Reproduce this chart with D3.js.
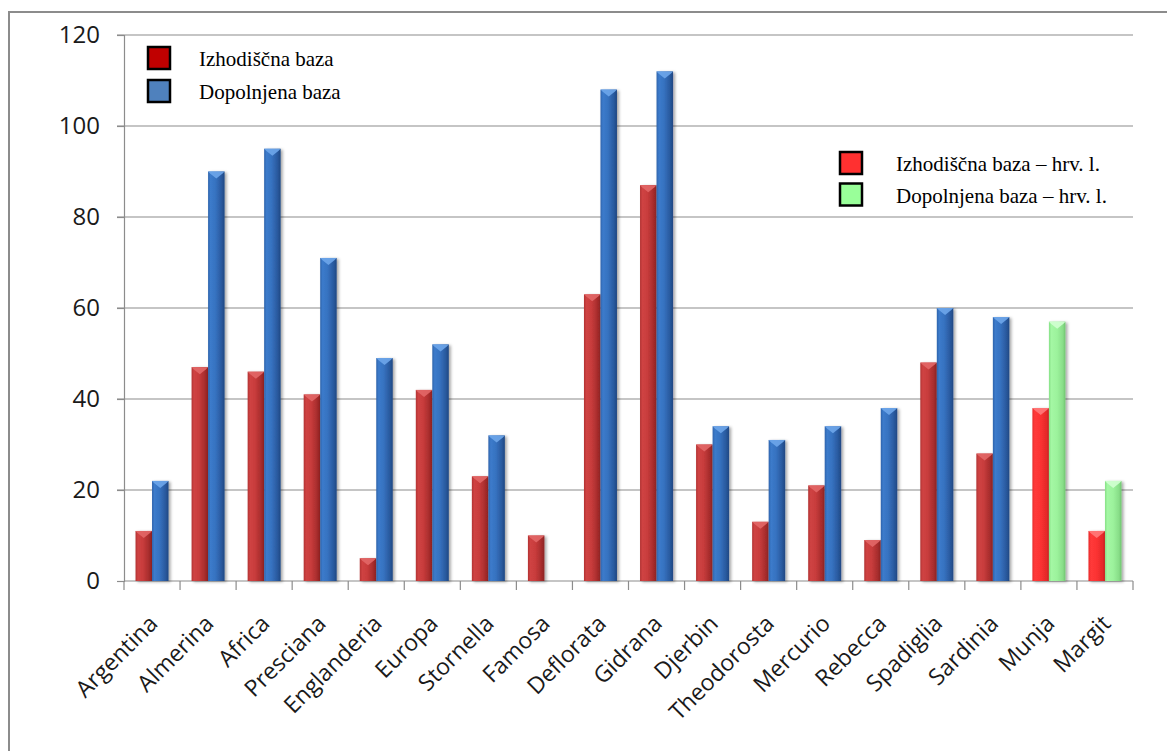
<!DOCTYPE html>
<html>
<head>
<meta charset="utf-8">
<script src="https://cdn.jsdelivr.net/npm/d3@7"></script>
<style>
html,body{margin:0;padding:0;background:#fff;}
svg{display:block;}
</style>
</head>
<body>
<svg id="chart" width="1167" height="751"></svg>
<script>
// ---- data ----
const categories = ["Argentina","Almerina","Africa","Presciana","Englanderia","Europa","Stornella","Famosa","Deflorata","Gidrana","Djerbin","Theodorosta","Mercurio","Rebecca","Spadiglia","Sardinia","Munja","Margit"];
const baseValues        = [11,47,46,41,5,42,23,10,63,87,30,13,21,9,48,28,null,null];
const supplementedValues= [22,90,95,71,49,52,32,0,108,112,34,31,34,38,60,58,null,null];
const baseHrvValues     = [null,null,null,null,null,null,null,null,null,null,null,null,null,null,null,null,38,11];
const supplementedHrvValues = [null,null,null,null,null,null,null,null,null,null,null,null,null,null,null,null,57,22];
const yTicks = [0,20,40,60,80,100,120];
const legendMain = ["Izhodiščna baza","Dopolnjena baza"];
const legendHrv = ["Izhodiščna baza – hrv. l.","Dopolnjena baza – hrv. l."];

// ---- setup ----
const svg = d3.select("#chart");
const plotL = 124, plotR = 1133, plotT = 35, plotB = 581;
const x = d3.scaleBand().domain(categories).range([plotL, plotR]).padding(0);
const y = d3.scaleLinear().domain([0,120]).range([plotB, plotT]);
const barW = 16.5;

// outer frame (top and left edges visible)
svg.append("path").attr("d", `M9,760 V12 H1180`).attr("fill","none").attr("stroke","#8c8c8c").attr("stroke-width",2);

const defs = svg.append("defs");
const shadow = defs.append("filter").attr("id","sh").attr("x","-30%").attr("y","-10%").attr("width","180%").attr("height","130%");
shadow.append("feDropShadow").attr("dx",2).attr("dy",1).attr("stdDeviation",1.6).attr("flood-color","#000").attr("flood-opacity",0.35);

function grad(id, stops){
  const g = defs.append("linearGradient").attr("id",id).attr("x1","0").attr("x2","1").attr("y1","0").attr("y2","0");
  stops.forEach(([o,c])=>g.append("stop").attr("offset",o).attr("stop-color",c));
}
grad("gRed",[[0,"#b23232"],[0.15,"#cf4343"],[0.45,"#c83c3c"],[0.8,"#a82d2d"],[1,"#8c2222"]]);
grad("gBlue",[[0,"#2f64ac"],[0.15,"#3c7bcb"],[0.45,"#3672c0"],[0.8,"#2a5a9f"],[1,"#1f4883"]]);
grad("gBrRed",[[0,"#e82828"],[0.15,"#ff3a3a"],[0.5,"#fb3232"],[0.85,"#e52a2a"],[1,"#c82020"]]);
grad("gGreen",[[0,"#86e086"],[0.15,"#a4f7a4"],[0.5,"#9cf29c"],[0.85,"#88dd88"],[1,"#6fc46f"]]);

const series = [
  {vals: baseValues, off: -1, fill:"url(#gRed)", cap:"#e26767"},
  {vals: supplementedValues, off: 0, fill:"url(#gBlue)", cap:"#6ea6ea"},
  {vals: baseHrvValues, off: -1, fill:"url(#gBrRed)", cap:"#ff7a7a"},
  {vals: supplementedHrvValues, off: 0, fill:"url(#gGreen)", cap:"#d2ffd2"}
];

// gridlines
svg.append("g").selectAll("line").data(yTicks.filter(t=>t>0)).join("line")
  .attr("x1", plotL-7).attr("x2", plotR).attr("y1", d=>y(d)).attr("y2", d=>y(d))
  .attr("stroke","#8c8c8c").attr("stroke-width",1.2);

// y axis
const yAxis = svg.append("g").attr("transform",`translate(${plotL},0)`)
  .call(d3.axisLeft(y).tickValues(yTicks).tickSize(7).tickPadding(17));
yAxis.select(".domain").attr("stroke","#8c8c8c").attr("stroke-width",1.2);
yAxis.selectAll(".tick line").attr("stroke","#8c8c8c").attr("stroke-width",1.2);
yAxis.selectAll("text").attr("font-family","'Open Sans', sans-serif").attr("font-size",24).attr("fill","#1a1a1a");

// x axis
svg.append("line").attr("x1",plotL).attr("x2",plotR).attr("y1",plotB).attr("y2",plotB).attr("stroke","#8c8c8c").attr("stroke-width",1.2);
const bounds = categories.map(c=>x(c)).concat([plotR]);
svg.append("g").selectAll("line").data(bounds).join("line")
  .attr("x1",d=>d).attr("x2",d=>d).attr("y1",plotB).attr("y2",plotB+9)
  .attr("stroke","#8c8c8c").attr("stroke-width",1.2);

svg.append("g").selectAll("text").data(categories).join("text")
  .attr("transform", d=>`translate(${x(d)+x.bandwidth()/2+7},${plotB+44}) rotate(-45)`)
  .attr("text-anchor","end")
  .attr("font-family","'Open Sans', sans-serif").attr("font-size",23).attr("fill","#1a1a1a")
  .text(d=>d);

// bars
const barsG = svg.append("g");
series.forEach(s=>{
  const data = categories.map((c,i)=>({c, v:s.vals[i]})).filter(d=>d.v!=null && d.v>0);
  const g = barsG.append("g");
  g.selectAll("rect").data(data).join("rect")
    .attr("x", d=>x(d.c)+x.bandwidth()/2 + s.off*barW)
    .attr("y", d=>y(d.v))
    .attr("width", barW)
    .attr("height", d=>y(0)-y(d.v))
    .attr("fill", s.fill)
    .attr("filter","url(#sh)");
  g.selectAll("path").data(data).join("path")
    .attr("d", d=>{
      const x0 = x(d.c)+x.bandwidth()/2 + s.off*barW, x1 = x0+barW, t = y(d.v), m=(x0+x1)/2;
      return `M${x0},${t} H${x1} L${x1-2},${t+2} L${m},${t+7} L${x0+2},${t+2} Z`;
    })
    .attr("fill", s.cap).attr("opacity",0.9);
});

// legends
function legend(items, colors, bx, by, tx, gap){
  const g = svg.append("g");
  items.forEach((t,i)=>{
    g.append("rect").attr("x",bx).attr("y",by+i*gap).attr("width",22).attr("height",22)
      .attr("fill",colors[i]).attr("stroke","#000").attr("stroke-width",2.5);
    g.append("text").attr("x",tx).attr("y",by+i*gap+19)
      .attr("font-family","'Liberation Serif', 'Times New Roman', serif").attr("font-size",21).attr("fill","#000")
      .text(t);
  });
}
legend(legendMain, ["#c00000","#4f81bd"], 148, 47, 199, 33);
legend(legendHrv, ["#ff3030","#99ff99"], 840, 152, 896, 31.5);
</script>
</body>
</html>
